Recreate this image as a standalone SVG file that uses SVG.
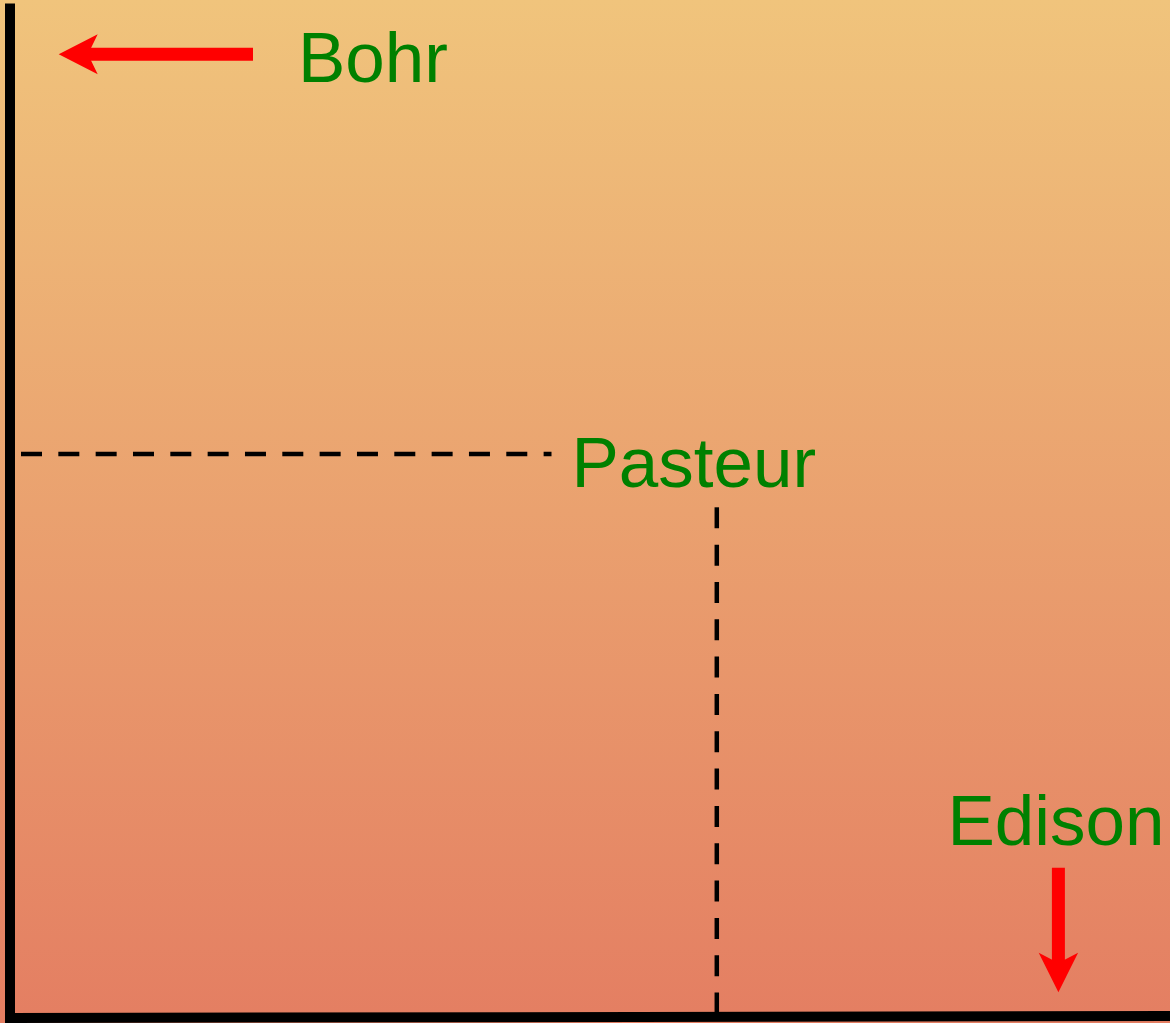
<svg xmlns="http://www.w3.org/2000/svg" width="1170" height="1023" viewBox="0 0 1170 1023">
  <defs>
    <linearGradient id="bg" x1="0" y1="0" x2="0" y2="1">
      <stop offset="0" stop-color="#F0C47C"/>
      <stop offset="1" stop-color="#E47E62"/>
    </linearGradient>
    <style>
      .lbl { font-family: "Liberation Sans", Arial, sans-serif; font-size: 71px; fill: #008000; }
      .axis { fill: none; stroke: #000; stroke-width: 10; stroke-linejoin: miter; }
      .dash { fill: none; stroke: #000; stroke-width: 4.5; stroke-dasharray: 21 16.33; }
      .shaft { fill: none; stroke: #FF0000; stroke-width: 13; }
      .head { fill: #FF0000; stroke: none; }
    </style>
  </defs>
  <rect id="background" x="0" y="0" width="1170" height="1023" fill="url(#bg)"/>
  <g id="connectors">
    <polyline class="axis" points="10,3.5 10,1018 1170,1016"/>
    <line class="dash" x1="21" y1="454" x2="551.5" y2="454"/>
    <line class="dash" x1="716.8" y1="507.3" x2="716.8" y2="1014"/>
    <g id="bohr-arrow">
      <line class="shaft" x1="253" y1="54.3" x2="86" y2="54.3"/>
      <path class="head" d="M58.7,54.3 L97.7,34.3 L88,54.3 L97.7,74.3 Z"/>
    </g>
    <g id="edison-arrow">
      <line class="shaft" x1="1058.4" y1="867.7" x2="1058.4" y2="965"/>
      <path class="head" d="M1058.4,992.3 L1038.7,952.7 L1058.4,963 L1078.1,952.7 Z"/>
    </g>
  </g>
  <g id="bohr"><text class="lbl" x="298" y="81.7">Bohr</text></g>
  <g id="pasteur"><text class="lbl" x="571.5" y="486.7">Pasteur</text></g>
  <g id="edison"><text class="lbl" x="947.5" y="845">Edison</text></g>
</svg>
